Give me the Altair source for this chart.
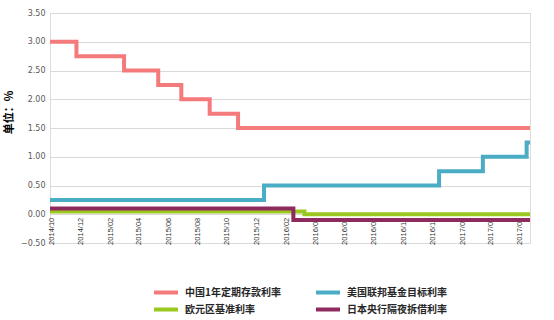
import altair as alt
import pandas as pd

series_names = ["中国1年定期存款利率", "美国联邦基金目标利率", "欧元区基准利率", "日本央行隔夜拆借利率"]
series_colors = ["#F47A7C", "#4BACC6", "#9BC81E", "#8E2A5E"]

cn_dates = ["2014-09-28", "2014-11-22", "2015-03-01", "2015-05-11", "2015-06-28", "2015-08-26", "2015-10-24", "2017-06-22"]
cn_values = [3.00, 2.75, 2.50, 2.25, 2.00, 1.75, 1.50, 1.50]

us_dates = ["2014-09-28", "2015-12-17", "2016-12-15", "2017-03-16", "2017-06-15", "2017-06-22"]
us_values = [0.25, 0.50, 0.75, 1.00, 1.25, 1.25]

eu_dates = ["2014-09-28", "2016-03-10", "2017-06-22"]
eu_values = [0.05, 0.00, 0.00]

jp_dates = ["2014-09-28", "2016-02-16", "2017-06-22"]
jp_values = [0.10, -0.10, -0.10]

x_ticks = ["2014-10-01", "2014-12-01", "2015-02-01", "2015-04-01", "2015-06-01", "2015-08-01",
           "2015-10-01", "2015-12-01", "2016-02-01", "2016-04-01", "2016-06-01", "2016-08-01",
           "2016-10-01", "2016-12-01", "2017-02-01", "2017-04-01", "2017-06-01"]
y_ticks = [-0.5, 0.0, 0.5, 1.0, 1.5, 2.0, 2.5, 3.0, 3.5]

rows = []
for name, ds, vs in zip(series_names, [cn_dates, us_dates, eu_dates, jp_dates],
                        [cn_values, us_values, eu_values, jp_values]):
    for d, v in zip(ds, vs):
        rows.append({"series": name, "date": d, "value": v})
df = pd.DataFrame(rows)

def dt(s):
    y, m, d = (int(p) for p in s.split("-"))
    return alt.DateTime(year=y, month=m, date=d, utc=True)

chart = alt.Chart(df).mark_line(interpolate="step-after", strokeWidth=4).encode(
    x=alt.X("date:T",
            scale=alt.Scale(type="utc", domain=[dt("2014-09-28"), dt("2017-06-22")], nice=False),
            axis=alt.Axis(title=None, values=[dt(s) for s in x_ticks], format="%Y/%m",
                          labelAngle=-90, labelFont="Liberation Sans", labelFontSize=7.5,
                          labelColor="#333333", labelPadding=3, grid=False, domain=False,
                          ticks=False, offset=-28.75, labelFlush=False, labelOverlap=False,
                          labelBound=False)),
    y=alt.Y("value:Q",
            scale=alt.Scale(domain=[-0.5, 3.5], nice=False, zero=False),
            axis=alt.Axis(title="单位：%", values=y_ticks, format=".2f",
                          labelFont="DejaVu Sans", labelFontSize=8, labelColor="#595959",
                          labelPadding=5, domain=False, ticks=False, gridColor="#D9D9D9",
                          gridWidth=1, titleFont="Noto Sans CJK SC", titleFontSize=11,
                          titleFontWeight="bold", titleColor="#000000", titleX=-41, titleY=99,
                          titleAngle=-90, titleAlign="center", titleBaseline="middle")),
    color=alt.Color("series:N",
                    scale=alt.Scale(domain=series_names, range=series_colors),
                    sort=series_names,
                    legend=alt.Legend(title=None, orient="none", legendX=102, legendY=273,
                                      direction="horizontal", columns=2, columnPadding=33,
                                      rowPadding=4, clipHeight=13,
                                      symbolType="stroke", symbolSize=576, symbolStrokeWidth=4,
                                      labelFont="Noto Sans CJK SC", labelFontSize=10,
                                      labelFontWeight="bold", labelColor="#262626",
                                      labelOffset=5)),
    order=alt.Order("series_order:Q"),
).transform_calculate(
    series_order="indexof(" + str(series_names) + ", datum.series)"
).properties(
    width=480, height=230,
    autosize=alt.AutoSizeParams(type="none"),
    padding={"left": 50, "top": 13, "right": 24, "bottom": 77},
).configure_view(stroke=None).configure(background="white")

chart.save("out.html", embed_options={"renderer": "svg", "actions": False})
